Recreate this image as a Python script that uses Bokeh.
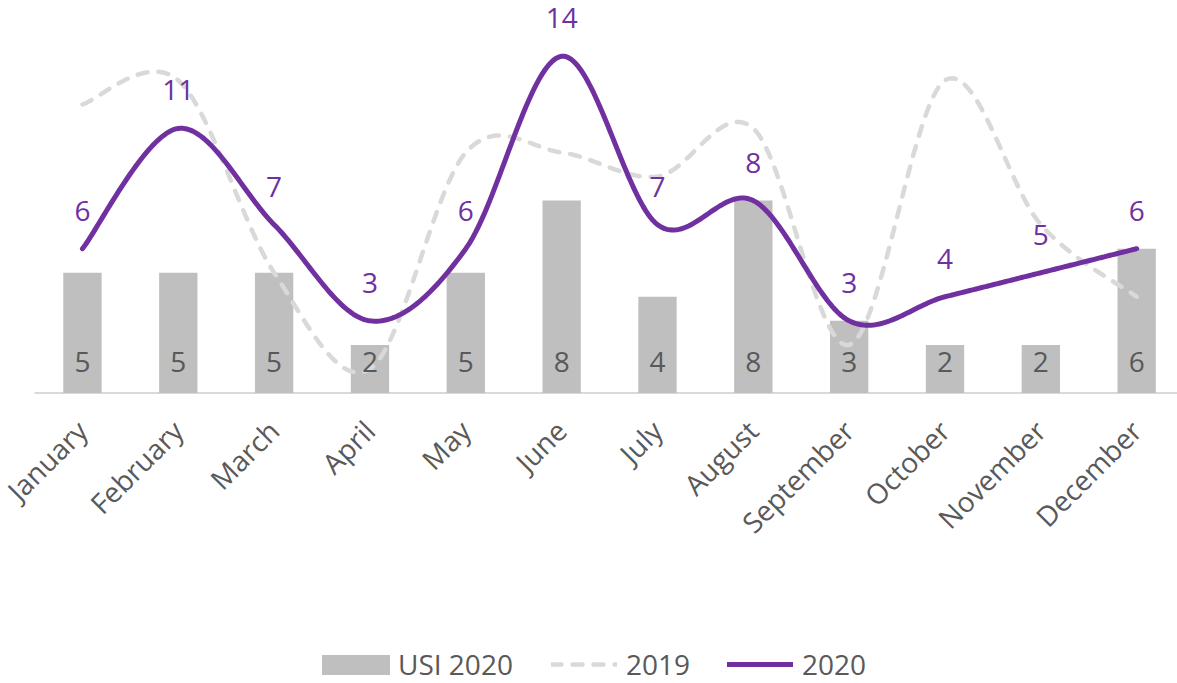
import math
import numpy as np
from bokeh.plotting import figure
from bokeh.models import Legend, LegendItem, Range1d
from bokeh.core.properties import value
from bokeh.embed import file_html
from bokeh.resources import INLINE

months = ["January", "February", "March", "April", "May", "June", "July",
          "August", "September", "October", "November", "December"]
usi_2020 = [5, 5, 5, 2, 5, 8, 4, 8, 3, 2, 2, 6]
series_2019 = [12, 13, 5, 1, 10, 10, 9, 11, 2, 13, 7, 4]
series_2020 = [6, 11, 7, 3, 6, 14, 7, 8, 3, 4, 5, 6]

FONT = "Open Sans"
GRAY_TEXT = "#595959"
PURPLE = "#7030A0"


def smooth(xs, ys, n=40):
    """Excel-like smoothed line: cubic Bezier segments with Catmull-Rom control points."""
    P = np.column_stack([xs, ys]).astype(float)
    ext = np.vstack([P[0], P, P[-1]])
    out = []
    for i in range(len(P) - 1):
        p0, p1, p2, p3 = ext[i], ext[i + 1], ext[i + 2], ext[i + 3]
        c1 = p1 + (p2 - p0) / 6.0
        c2 = p2 - (p3 - p1) / 6.0
        t = np.linspace(0, 1, n, endpoint=(i == len(P) - 2))[:, None]
        seg = (1 - t) ** 3 * p1 + 3 * (1 - t) ** 2 * t * c1 + 3 * (1 - t) * t ** 2 * c2 + t ** 3 * p2
        out.append(seg)
    pts = np.vstack(out)
    return pts[:, 0], pts[:, 1]


xs = list(range(len(months)))

X_START, X_END = -0.855, 11.426
p = figure(width=1177, height=683,
           x_range=Range1d(X_START, X_END), y_range=Range1d(-12.08, 16.32),
           output_backend="svg", toolbar_location=None,
           x_axis_location=None, y_axis_location=None,
           min_border_left=0, min_border_right=0, min_border_top=0, min_border_bottom=0)
p.outline_line_color = None
p.grid.visible = False
p.background_fill_color = "white"
p.border_fill_color = "white"

# category baseline
p.segment(x0=[-0.5], y0=[0], x1=[X_END], y1=[0], line_color="#D9D9D9", line_width=2)

bars = p.vbar(x=xs, top=usi_2020, width=0.4, fill_color="#BFBFBF", line_color=None)

sx19, sy19 = smooth(xs, series_2019)
l19 = p.line(sx19, sy19, line_color="#D9D9D9", line_width=4.5, line_dash="10 11",
             line_cap="round", line_join="round")

sx20, sy20 = smooth(xs, series_2020)
l20 = p.line(sx20, sy20, line_color=PURPLE, line_width=5, line_cap="round", line_join="round")

p.text(x=xs, y=series_2020, text=[str(v) for v in series_2020],
       text_align="center", text_baseline="alphabetic", y_offset=-38,
       text_font=value(FONT), text_font_size="28px", text_color=PURPLE)

p.text(x=xs, y=[0] * len(xs), text=[str(v) for v in usi_2020],
       text_align="center", text_baseline="alphabetic", y_offset=-31,
       text_font=value(FONT), text_font_size="28px", text_color=GRAY_TEXT)

# category labels, rotated 45 degrees like the source chart
p.text(x=xs, y=[0] * len(xs), text=months, angle=math.pi / 4,
       text_align="right", text_baseline="top", x_offset=-14, y_offset=19,
       text_font=value(FONT), text_font_size="28px", text_color=GRAY_TEXT)

common = dict(orientation="horizontal", padding=0, margin=0, border_line_color=None,
              background_fill_alpha=0, label_text_font=FONT, label_text_font_size="28px",
              label_text_color=GRAY_TEXT)

legend_bar = Legend(items=[LegendItem(label="USI 2020", renderers=[bars])],
                    location=(313, 0), glyph_width=85, glyph_height=25,
                    label_standoff=0, **common)
legend_lines = Legend(items=[LegendItem(label="2019", renderers=[l19]),
                             LegendItem(label="2020", renderers=[l20])],
                      location=(551, 0), glyph_width=66, glyph_height=20,
                      label_standoff=9, spacing=37, **common)
p.add_layout(legend_bar)
p.add_layout(legend_lines)

open("out.html", "w").write(file_html(p, INLINE))
